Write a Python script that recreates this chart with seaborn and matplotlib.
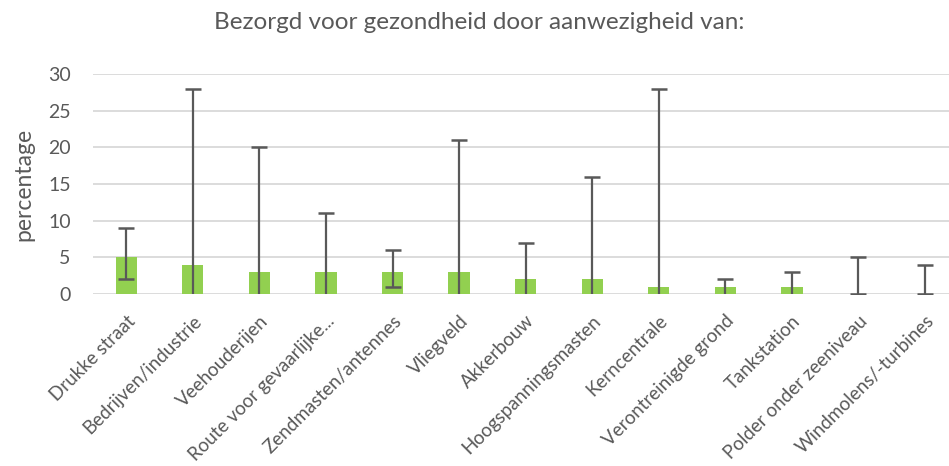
import seaborn as sns
import pandas as pd
import matplotlib.pyplot as plt

categories = ['Drukke straat', 'Bedrijven/industrie', 'Veehouderijen', 'Route voor gevaarlijke...',
              'Zendmasten/antennes', 'Vliegveld', 'Akkerbouw', 'Hoogspanningsmasten', 'Kerncentrale',
              'Verontreinigde grond', 'Tankstation', 'Polder onder zeeniveau', 'Windmolens/-turbines']
values = [5, 4, 3, 3, 3, 3, 2, 2, 1, 1, 1, 0, 0]
err_low = [2, 0, 0, 0, 1, 0, 0, 0, 0, 0, 0, 0, 0]
err_high = [9, 28, 20, 11, 6, 21, 7, 16, 28, 2, 3, 5, 4]

df = pd.DataFrame({'categorie': categories, 'percentage': values})

sns.set_style('white')
plt.rcParams['font.family'] = ['Lato', 'DejaVu Sans']
text_color = '#595959'
err_color = '#595959'

fig = plt.figure(figsize=(9.49, 4.66), dpi=100)
ax = fig.add_axes([0.098, 0.369, 0.902, 0.472])

sns.barplot(data=df, x='categorie', y='percentage', color='#92D050', width=0.32,
            errorbar=None, saturation=1, linewidth=0, ax=ax, zorder=2)

xs = list(range(len(categories)))
ax.vlines(xs, err_low, err_high, color=err_color, linewidth=1.6, zorder=3)
ax.plot(xs, err_high, linestyle='none', marker='_', markersize=11, markeredgewidth=1.8,
        color=err_color, zorder=3)
low_x = [x for x, lo, v in zip(xs, err_low, values) if lo > 0 or v == 0]
low_y = [lo for lo, v in zip(err_low, values) if lo > 0 or v == 0]
ax.plot(low_x, low_y, linestyle='none', marker='_', markersize=11, markeredgewidth=1.8,
        color=err_color, zorder=3)

ax.set_ylim(0, 30)
ax.set_xlim(-0.5, 12.36)
ax.set_yticks(range(0, 31, 5))
ax.yaxis.grid(True, color='#D9D9D9', linewidth=1.3, zorder=0)
ax.set_axisbelow(True)
for s in ax.spines.values():
    s.set_visible(False)
ax.tick_params(axis='both', length=0, colors=text_color)
ax.tick_params(axis='y', pad=16, labelsize=14)
ax.tick_params(axis='x', pad=13, labelsize=13.5)
plt.setp(ax.get_xticklabels(), rotation=45, ha='right', rotation_mode='anchor')
ax.set_xlabel('')
ax.set_ylabel('percentage', fontsize=16.5, color=text_color, labelpad=10)

fig.suptitle('Bezorgd voor gezondheid door aanwezigheid van:', x=0.505, y=0.975,
             fontsize=17.5, color=text_color)

fig.savefig('out.png', dpi=100)
